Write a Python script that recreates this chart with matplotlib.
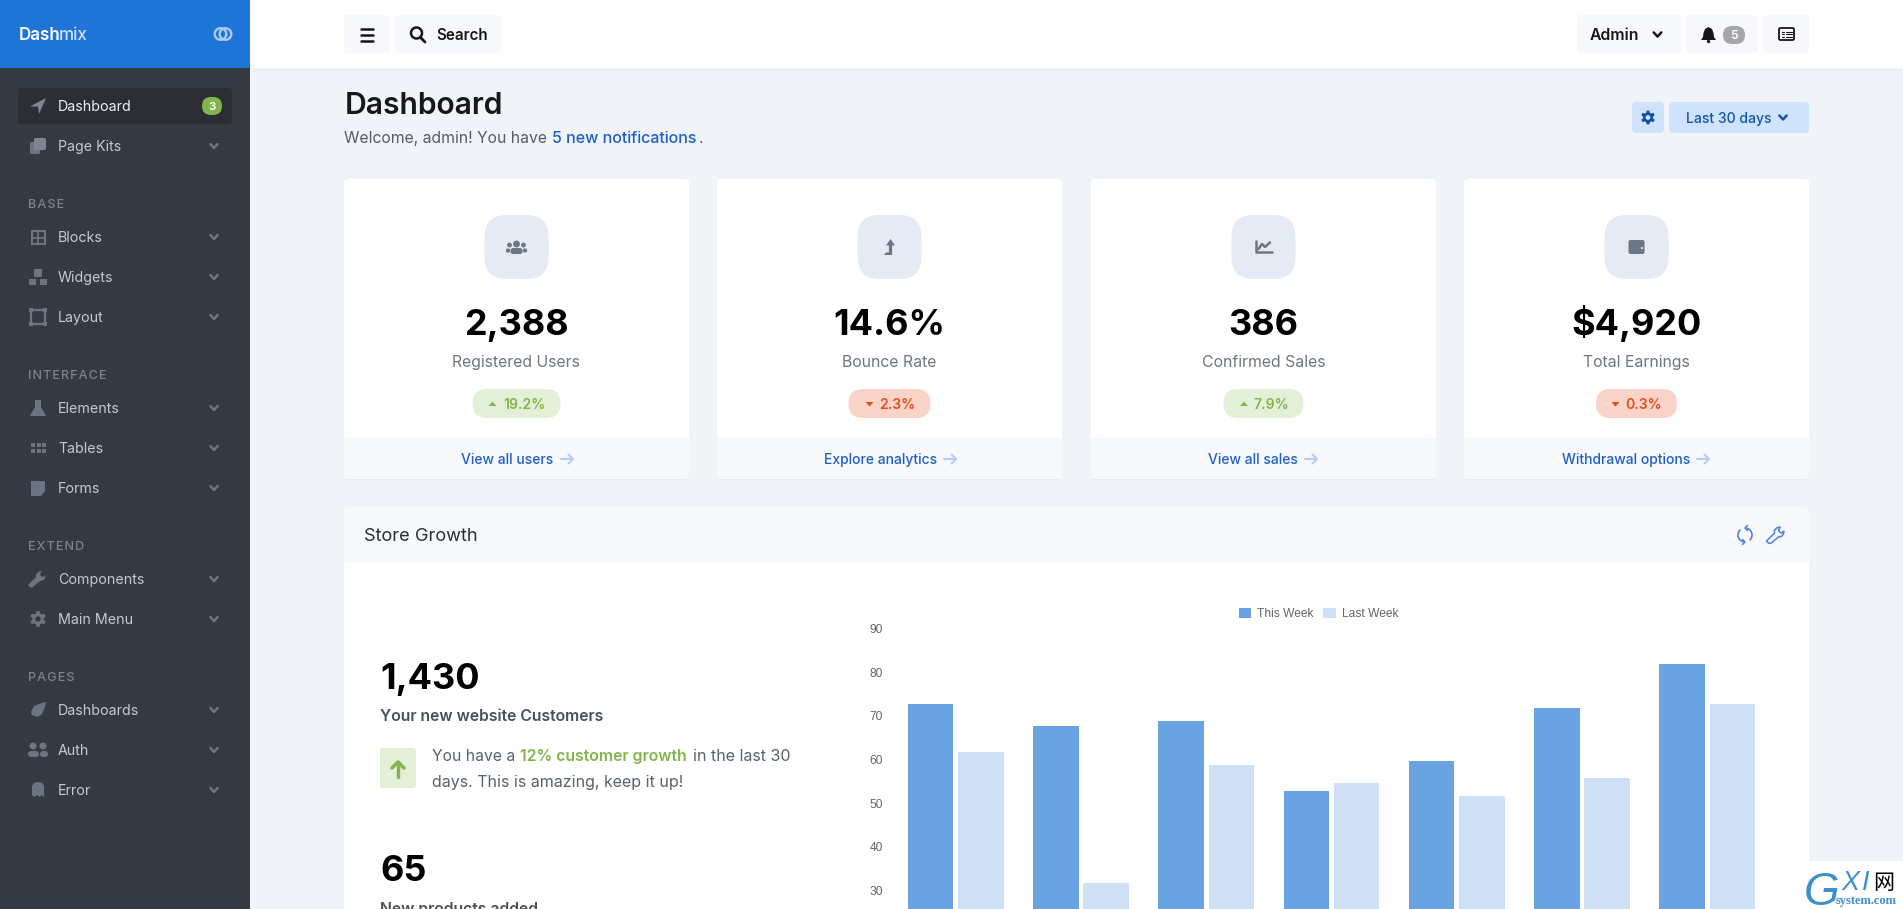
import numpy as np
import matplotlib
matplotlib.use('Agg')
import matplotlib.pyplot as plt
from matplotlib.patches import FancyBboxPatch, Polygon, Circle, Rectangle
from matplotlib.transforms import ScaledTranslation

# ---------- data ----------
categories = ['MON', 'TUE', 'WED', 'THU', 'FRI', 'SAT', 'SUN']
this_week = [73, 68, 69, 53, 60, 72, 82]
last_week = [62, 32, 59, 55, 52, 56, 73]
y_ticks = [30, 40, 50, 60, 70, 80, 90]
series_names = ['This Week', 'Last Week']

card_values = ['2,388', '14.6%', '386', '$4,920']
card_labels = ['Registered Users', 'Bounce Rate', 'Confirmed Sales', 'Total Earnings']
card_deltas = ['19.2%', '2.3%', '7.9%', '0.3%']
card_up = [True, False, True, False]
card_links = ['View all users', 'Explore analytics', 'View all sales', 'Withdrawal options']

nav_items = [('Page Kits', 146), ('Blocks', 237), ('Widgets', 277), ('Layout', 317),
             ('Elements', 408), ('Tables', 448), ('Forms', 488), ('Components', 579),
             ('Main Menu', 619), ('Dashboards', 710), ('Auth', 750), ('Error', 790)]
nav_headers = [('BASE', 203), ('INTERFACE', 374), ('EXTEND', 545), ('PAGES', 676)]

# ---------- setup ----------
W, H = 1903, 909
plt.rcParams['font.family'] = ['Inter', 'DejaVu Sans']
fig = plt.figure(figsize=(W / 100, H / 100), dpi=100, facecolor='#f0f3f8')
ui = fig.add_axes([0, 0, 1, 1])
ui.set_xlim(0, W)
ui.set_ylim(H, 0)
ui.axis('off')

PX = 0.72
BLUE = '#1f5fc4'
GREEN = '#82b54b'
RED = '#e04f1a'
NAVICON = '#6b7582'
NAVTEXT = '#c4c9d1'


def rr(x0, y0, x1, y1, r, color, z=1, **kw):
    p = FancyBboxPatch((x0, y0), x1 - x0, y1 - y0, boxstyle=f'round,pad=0,rounding_size={r}',
                       facecolor=color, edgecolor='none', zorder=z, **kw)
    ui.add_patch(p)
    return p


def rect(x0, y0, x1, y1, color, z=1):
    ui.add_patch(Rectangle((x0, y0), x1 - x0, y1 - y0, facecolor=color, edgecolor='none', zorder=z))


def txt(x, y, s, px, color, weight='normal', ha='left', z=5, **kw):
    return ui.text(x, y + 0.36 * px, s, fontsize=px * PX, color=color, fontweight=weight, ha=ha,
                   va='baseline', zorder=z, **kw)


def poly(pts, color, z=4, **kw):
    ui.add_patch(Polygon(pts, closed=True, facecolor=color, edgecolor='none', zorder=z, **kw))


def line(xs, ys, color, lw=1.5, z=4, **kw):
    ui.plot(xs, ys, color=color, lw=lw, zorder=z, solid_capstyle='round', solid_joinstyle='round', **kw)


def circ(x, y, r, color, z=4, **kw):
    ui.add_patch(Circle((x, y), r, facecolor=color, edgecolor='none', zorder=z, **kw))


def ring(x, y, r, color, lw=1.5, z=4):
    ui.add_patch(Circle((x, y), r, facecolor='none', edgecolor=color, lw=lw, zorder=z))


def chevron(x, y, color, s=3.6, lw=1.8):
    line([x - s, x, x + s], [y - s * 0.55, y + s * 0.55, y - s * 0.55], color, lw=lw)


def gear(x, y, r, color, hole):
    a = np.linspace(0, 2 * np.pi, 145)
    rad = r * (0.86 + 0.14 * np.clip(np.cos(6 * (a + np.pi / 6)) * 2.5, -1, 1))
    poly(np.c_[x + rad * np.cos(a), y + rad * np.sin(a)], color)
    circ(x, y, r * 0.34, hole, z=5)


def arrow_right(x0, x1, y, color, lw=1.5):
    line([x0, x1], [y, y], color, lw)
    line([x1 - 4.5, x1, x1 - 4.5], [y - 4.5, y, y + 4.5], color, lw)


WRENCH = np.array([(-8, 8), (-10, 6), (-2, -2), (-2, -5), (1, -7.5), (4, -8), (2, -5), (3, -3), (5, -2),
                   (7.5, -4), (7, -1), (5, 1.5), (2, 2), (-6, 8.5)], float)


# ---------- sidebar ----------
rect(0, 0, 250, H, '#353a42')
rect(0, 0, 250, 68, '#1f74d8')
t1 = txt(18.5, 34.3, 'Dash', 17, 'white', 'semibold')
fig.canvas.draw()
ui.annotate('mix', xy=(1, 0), xycoords=t1, xytext=(-1.2, 0), textcoords='offset points', va='bottom',
            fontsize=17 * PX, color='#cfe2fa', fontweight='medium')
ring(220.5, 34, 5.8, '#a9cdf6', 1.7)
ring(225.5, 34, 5.8, '#a9cdf6', 1.7)

rr(18, 88, 232, 124, 4, '#2b2f35', z=2)
txt(58, 106, 'Dashboard', 14.2, '#eceef2')
rr(202, 97, 222, 115, 9, GREEN, z=3)
txt(212, 106, '3', 11.5, 'white', 'semibold', ha='center')
poly([(46, 98), (30, 106.5), (38, 106.5), (39, 114)], '#7c8591')

for name, y in nav_items:
    txt(58, y, name, 14.2, NAVTEXT)
    chevron(214, y, NAVICON)
for name, y in nav_headers:
    txt(28, y, '\u200a'.join(name), 12.6, '#7b838e', 'medium')

# nav icons
IC = NAVICON
rr(30, 142, 40, 154, 1.5, IC, z=4)
rr(34, 138, 46, 150, 1.5, '#7c8591', z=4)
ui.add_patch(Rectangle((31.5, 231), 13, 13, facecolor='none', edgecolor=IC, lw=1.5, zorder=4))
line([38, 38], [231, 244], IC, 1.3)
line([31.5, 44.5], [237.5, 237.5], IC, 1.3)
rect(34, 269, 42, 277, IC, 4)
rect(29, 279, 36, 285, IC, 4)
rect(40, 279, 47, 285, IC, 4)
ui.add_patch(Rectangle((31, 310), 14, 14, facecolor='none', edgecolor=IC, lw=1.6, zorder=4))
for cx, cy in [(31, 310), (45, 310), (31, 324), (45, 324)]:
    rect(cx - 2, cy - 2, cx + 2, cy + 2, IC, 4)
poly([(35, 400), (41, 400), (41, 407), (46, 416), (30, 416), (35, 407)], IC)
for row in (445, 450.5):
    for col in (31, 36.5, 42):
        rect(col, row - 2, col + 4, row + 2, IC, 4)
poly([(31, 481), (45, 481), (45, 491), (41, 496), (31, 496)], IC)
poly(WRENCH + (38, 579), IC)
gear(38, 619, 8, IC, '#353a42')
poly([(31, 712), (34, 706), (42, 703), (46, 702), (45, 707), (42, 714), (38, 717), (32, 715)], IC)
circ(33, 746, 3.5, IC)
circ(43, 746, 3.5, IC)
rr(28, 751, 39, 757, 3, IC, z=4)
rr(40, 751, 48, 757, 3, IC, z=4)
poly([(32, 786), (34, 783), (38, 782), (42, 783), (44, 786), (44, 797), (41.5, 795), (39.5, 797), (37, 795),
      (34.5, 797), (32, 795)], IC)

# ---------- top bar ----------
rect(250, 0, W, 68, 'white')
rect(250, 68, W, 71, '#edf0f6', z=0.5)
BTN = '#f7f8fb'
INK = '#171717'
rr(344, 15, 390, 53, 4, BTN, z=2)
rr(395, 15, 501, 53, 4, BTN, z=2)
for y in (29, 35, 41):
    line([361, 373], [y, y], INK, 1.8)
ring(416.5, 33, 5.5, INK, 1.8)
line([420.5, 425], [37.5, 42], INK, 2)
txt(436, 34.7, 'Search', 15.2, INK, 'semibold')

rr(1577, 15, 1681, 53, 4, BTN, z=2)
rr(1686, 15, 1758, 53, 4, BTN, z=2)
rr(1763, 15, 1809, 53, 4, BTN, z=2)
txt(1590, 34.3, 'Admin', 15.8, INK, 'semibold')
chevron(1657.5, 34.5, INK, s=3.8, lw=1.8)
poly([(1708.5, 27), (1712, 29), (1713.5, 33), (1714, 37), (1716, 40), (1701, 40), (1703, 37), (1703.5, 33),
      (1705, 29)], INK)
circ(1708.5, 41.5, 1.7, INK)
rr(1723, 26, 1745, 44, 9, '#a6a6a6', z=3)
txt(1734, 35, '5', 12, 'white', 'semibold', ha='center')
ui.add_patch(FancyBboxPatch((1779, 28), 15, 12, boxstyle='round,pad=0,rounding_size=1.5', facecolor='none',
                            edgecolor=INK, lw=1.3, zorder=4))
for y in (31.5, 34, 36.5):
    line([1781.5, 1783.5], [y, y], INK, 0.8)
    line([1785.5, 1791.5], [y, y], INK, 0.8)

# ---------- page heading ----------
txt(344.5, 103, 'Dashboard', 30, INK, 'semibold')
txt(344.5, 137, 'Welcome, admin! You have ', 15.7, '#575b61')
txt(552, 137, '5 new notifications', 16, BLUE, 'medium')
txt(698.5, 137, '.', 15.7, '#575b61')
rr(1632, 102, 1664, 133, 4, '#cfe3fc', z=2)
rr(1669, 102, 1809, 133, 4, '#cfe3fc', z=2)
gear(1648, 117.5, 7, '#0f4fa8', '#cfe3fc')
txt(1685.7, 118, 'Last 30 days', 14, '#1654aa', 'medium')
chevron(1783, 117.5, '#1654aa', s=3.6, lw=1.8)

# ---------- stat cards ----------
card_x = [344, 717, 1091, 1464]
CW = 345
badge_half = [44, 41, 40, 40.5]
caret_dx = [-24, -20, -19.5, -21]
link_cx = [506.8, 880.5, 1252.8, 1626]
arrow_x = [561, 944, 1305, 1697]
for i in range(4):
    x0 = card_x[i]
    cx = x0 + CW / 2
    rr(x0, 180, x0 + CW, 480, 4, '#e7eaf1', z=1)
    rr(x0, 179, x0 + CW, 479, 4, 'white', z=1.1)
    rr(x0, 438, x0 + CW, 479, 4, '#f7f8fc', z=1.2)
    rect(x0, 438, x0 + CW, 450, '#f7f8fc', 1.3)
    rr(cx - 32, 215, cx + 32, 279, 22, '#e6eaf4', z=2)
    txt(cx, 322, card_values[i], 36, 'black', 'bold', ha='center')
    txt(cx, 361, card_labels[i], 15.8, '#6f767d', ha='center')
    up = card_up[i]
    bg = '#e3efd6' if up else '#fad3c8'
    fg = GREEN if up else RED
    hw = badge_half[i]
    rr(cx - hw, 389, cx + hw, 418, 14.5, bg, z=2)
    txt(cx + 7.5, 404, card_deltas[i], 14, fg, 'semibold', ha='center')
    tx = cx + caret_dx[i]
    if up:
        poly([(tx - 4, 406), (tx + 4, 406), (tx, 401.5)], fg)
    else:
        poly([(tx - 4, 402), (tx + 4, 402), (tx, 406.5)], fg)
    txt(link_cx[i], 459, card_links[i], 13.9, BLUE, 'medium', ha='center')
    arrow_right(arrow_x[i], arrow_x[i] + 12, 459, '#b3cdf2')

# card glyphs
G = '#6b7686'
c = card_x[0] + CW / 2
circ(c, 244, 3.4, G); circ(c - 7, 245, 2.4, G); circ(c + 7, 245, 2.4, G)
rr(c - 6, 248, c + 6, 254, 2.5, G, z=4)
rr(c - 10.5, 248.5, c - 6.5, 252.5, 1.5, G, z=4)
rr(c + 6.5, 248.5, c + 10.5, 252.5, 1.5, G, z=4)
c = card_x[1] + CW / 2
poly([(c + 1, 239), (c + 5.5, 245.5), (c + 2.6, 245.5), (c + 2.6, 255), (c - 5.5, 255), (c - 3.5, 252.5),
      (c - 0.6, 252.5), (c - 0.6, 245.5), (c - 3.5, 245.5)], G)
c = card_x[2] + CW / 2
line([c - 8, c - 8, c + 8], [241, 252, 252], G, 1.8)
line([c - 5, c - 1.5, c + 1.5, c + 6.5], [249, 244, 247, 242.5], G, 1.8)
c = card_x[3] + CW / 2
rr(c - 8, 240, c + 8, 254, 2, G, z=4)
circ(c + 5.5, 248, 1.1, '#e6eaf4', z=5)

# ---------- store growth block ----------
rr(344, 507, 1809, 940, 4, 'white', z=1)
rr(344, 507, 1809, 562, 4, '#f7f8fc', z=1.1)
rect(344, 550, 1809, 562, '#f7f8fc', 1.2)
txt(364, 534.5, 'Store Growth', 18.2, '#2b2e33')
A = '#4f82dc'
for a0, a1 in [(100, 225), (-80, 45)]:
    th = np.radians(np.linspace(a0, a1, 30))
    line(1745 + 7 * np.cos(th), 535 + 7 * np.sin(th), A, 1.2)
line([1747.5, 1745, 1747.5], [525.5, 528, 530.5], A, 1.1)
line([1742.5, 1745, 1742.5], [539.5, 542, 544.5], A, 1.1)
ui.add_patch(Polygon(WRENCH + (1776.5, 535), closed=True, facecolor='none', edgecolor=A, lw=1.1, zorder=4))

txt(380, 676, '1,430', 36, 'black', 'bold')
txt(380.5, 715.5, 'Your new website Customers', 15.75, '#495057', 'semibold')
rr(380, 748, 416, 788, 3, '#e3efd6', z=2)
line([398, 398], [762, 777], GREEN, 2.5)
line([392, 398, 404], [768, 762, 768], GREEN, 2.5)
body = '#5a6168'
txt(432, 755, 'You have a ', 15.7, body)
txt(520, 755, '12% customer growth', 15.8, GREEN, 'semibold')
txt(693, 755, 'in the last 30', 16, body)
txt(432, 781, 'days. This is amazing, keep it up!', 16, body)
txt(380, 868, '65', 36, 'black', 'bold')
txt(380.5, 908, 'New products added', 15.75, '#495057', 'semibold')

# ---------- chart ----------
shift = 1.2
y30 = 890.7 + shift
ytop = 628.3 + shift
per_unit = (y30 - ytop) / 60
ax = fig.add_axes([893 / W, 0, 877 / W, (H - ytop) / H])
ax.patch.set_alpha(0)
x = np.arange(len(categories))
w, off = 45.6 / 125.3, 25.1 / 125.3
ax.bar(x - off, this_week, w, color='#69a3e4', label=series_names[0])
ax.bar(x + off, last_week, w, color='#cfe0f6', label=series_names[1])
ax.set_xlim(-0.5, len(categories) - 0.5)
ax.set_ylim(30 - (H - y30) / per_unit, 90)
ax.set_yticks(y_ticks)
ax.set_xticks([])
ax.tick_params(axis='y', length=0, pad=7.2, labelsize=12 * PX, labelcolor='#666666')
label_up = ScaledTranslation(0, shift / 100, fig.dpi_scale_trans)
for lab in ax.get_yticklabels():
    lab.set_fontfamily('Liberation Sans')
    lab.set_transform(lab.get_transform() + label_up)
for s in ax.spines.values():
    s.set_visible(False)
leg = ax.legend(loc='lower center', bbox_to_anchor=(1318.5 / W, 1 - 620 / H), bbox_transform=fig.transFigure,
                ncols=2, frameon=False, handlelength=1.03, handleheight=1.0, handletextpad=0.5,
                columnspacing=0.8, borderpad=0, borderaxespad=0,
                prop={'family': 'Liberation Sans', 'size': 12 * PX})
for t in leg.get_texts():
    t.set_color('#666666')

# ---------- watermark (drawn above everything) ----------
wm = fig.add_axes([0, 0, 1, 1])
wm.set_xlim(0, W)
wm.set_ylim(H, 0)
wm.axis('off')
wm.patch.set_alpha(0)
wm.add_patch(Rectangle((1809, 861), W - 1809, 48, facecolor='white', edgecolor='none'))
WB = '#3f8fc9'
wm.text(1804, 905, 'G', fontsize=46 * PX, color=WB, family='Liberation Sans', style='italic', va='baseline')
wm.text(1842, 890, 'X', fontsize=27 * PX, color=WB, family='Liberation Sans', style='italic', va='baseline')
wm.text(1862, 890, 'I', fontsize=27 * PX, color=WB, family='Liberation Sans', style='italic', va='baseline')
wm.text(1873, 889, '网', fontsize=21 * PX, color='black', family='Noto Sans CJK SC', va='baseline')
wm.text(1836, 904, 'system.com', fontsize=12.5 * PX, color=WB, family='Liberation Serif', fontweight='bold',
        va='baseline')

fig.savefig('out.png', dpi=100, facecolor=fig.get_facecolor())
